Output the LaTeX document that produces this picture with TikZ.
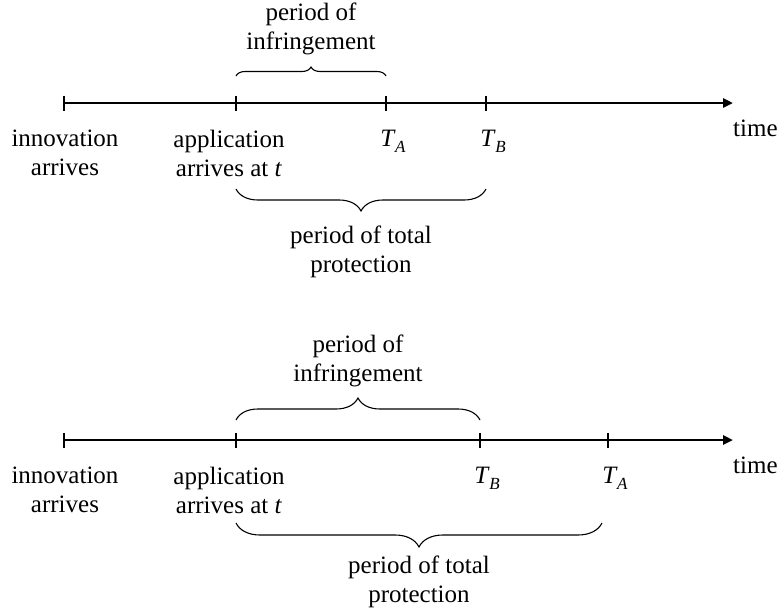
\documentclass[tikz,border=0pt]{standalone}
\usepackage{fontspec}
\setmainfont{Liberation Serif}
\usetikzlibrary{positioning}
\usetikzlibrary{arrows.meta}
\usetikzlibrary{decorations.pathreplacing}

\newcommand{\tsub}[1]{\textit{T}\kern-0.5pt\raisebox{-0.22em}{\fontsize{17}{17}\selectfont\textit{#1}}}

\begin{document}
\begin{tikzpicture}[
	x=1pt,
	y=-1pt,
	axis/.style={line width=2.5pt, -{Triangle[length=10pt,width=9pt]}},
	tickmark/.style={line width=1.2pt},
	brace/.style={decorate, line width=1.1pt, decoration={brace, amplitude=#1}},
	every node/.style={font=\fontsize{25}{29}\selectfont, inner sep=0pt, align=center},
]
\useasboundingbox (0,0) rectangle (780,614);

% first time line: T_A before T_B
\coordinate (s1) at (64,103);
\coordinate (a1) at (236,103);
\coordinate (ta1) at (386,103);
\coordinate (tb1) at (486,103);
\coordinate (e1) at (733,103);

\draw[axis] (s1) -- (e1);
\draw[tickmark] ([yshift=7.5pt]s1) -- ([yshift=-7.5pt]s1);
\draw[tickmark] ([yshift=7.5pt]a1) -- ([yshift=-7.5pt]a1);
\draw[tickmark] ([yshift=7.5pt]ta1) -- ([yshift=-7.5pt]ta1);
\draw[tickmark] ([yshift=7.5pt]tb1) -- ([yshift=-7.5pt]tb1);

\node[below=27pt of s1, xshift=1pt] (inno1) {innovation\\arrives};
\node[below=27pt of a1, xshift=-7pt] (appl1) {application\\arrives at \textit{t}};
\node[below=27pt of ta1, xshift=7pt] (lta1) {\tsub{A}};
\node[below=27pt of tb1, xshift=7pt] (ltb1) {\tsub{B}};
\node[below right=17pt and 0pt of e1] (time1) {time};

\coordinate (inf1l) at (236,76);
\coordinate (inf1r) at (386,76);
\draw[brace=9pt] (inf1l) -- (inf1r) node[midway, above=21pt] (inf1) {period of\\infringement};

\coordinate (prot1l) at (236,189);
\coordinate (prot1r) at (486,189);
\draw[brace=22pt] (prot1r) -- (prot1l) node[midway, below=36pt] (prot1) {period of total\\protection};

% second time line: T_B before T_A
\coordinate (s2) at (64,440);
\coordinate (a2) at (236,440);
\coordinate (tb2) at (480,440);
\coordinate (ta2) at (608,440);
\coordinate (e2) at (733,440);

\draw[axis] (s2) -- (e2);
\draw[tickmark] ([yshift=7.5pt]s2) -- ([yshift=-7.5pt]s2);
\draw[tickmark] ([yshift=7.5pt]a2) -- ([yshift=-7.5pt]a2);
\draw[tickmark] ([yshift=7.5pt]tb2) -- ([yshift=-7.5pt]tb2);
\draw[tickmark] ([yshift=7.5pt]ta2) -- ([yshift=-7.5pt]ta2);

\node[below=27pt of s2, xshift=1pt] (inno2) {innovation\\arrives};
\node[below=27pt of a2, xshift=-7pt] (appl2) {application\\arrives at \textit{t}};
\node[below=27pt of tb2, xshift=7pt] (ltb2) {\tsub{B}};
\node[below=27pt of ta2, xshift=7pt] (lta2) {\tsub{A}};
\node[below right=17pt and 0pt of e2] (time2) {time};

\coordinate (inf2l) at (236,420);
\coordinate (inf2r) at (480,420);
\draw[brace=22pt] (inf2l) -- (inf2r) node[midway, above=33pt] (inf2) {period of\\infringement};

\coordinate (prot2l) at (236,523);
\coordinate (prot2r) at (602,523);
\draw[brace=24pt] (prot2r) -- (prot2l) node[midway, below=32pt] (prot2) {period of total\\protection};
\end{tikzpicture}
\end{document}
